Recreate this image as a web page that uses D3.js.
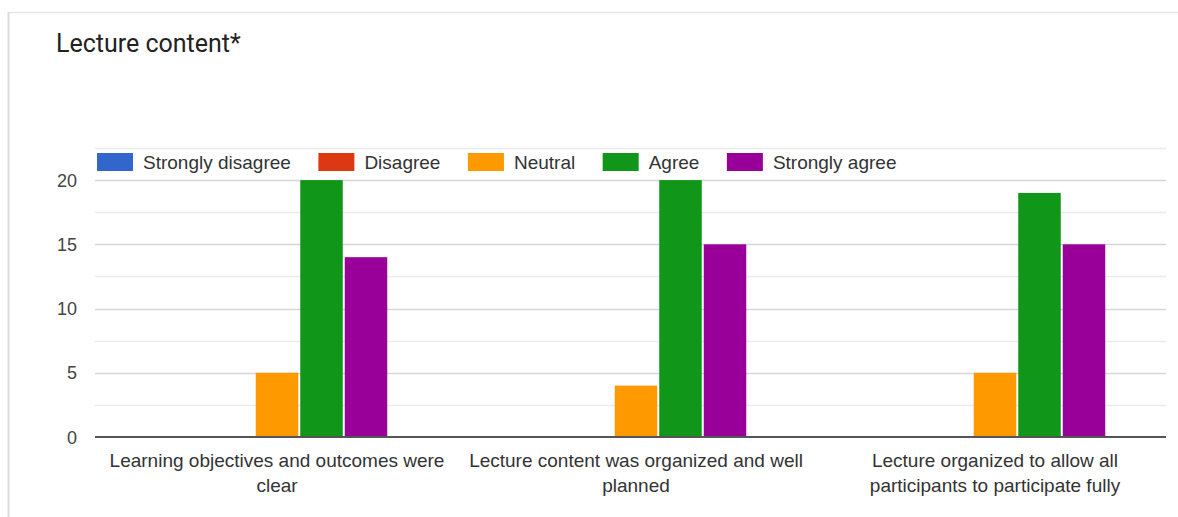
<!DOCTYPE html>
<html>
<head>
<meta charset="utf-8">
<script src="https://cdn.jsdelivr.net/npm/d3@7"></script>
<style>
  html, body { margin: 0; padding: 0; background: #fff; }
  svg { display: block; }
</style>
</head>
<body>
<svg id="chart" width="1178" height="517"></svg>
<script>
const title = "Lecture content*";
const categories = [
  ["Learning objectives and outcomes were", "clear"],
  ["Lecture content was organized and well", "planned"],
  ["Lecture organized to allow all", "participants to participate fully"]
];
const seriesNames = ["Strongly disagree", "Disagree", "Neutral", "Agree", "Strongly agree"];
const seriesColors = ["#3366cc", "#dc3912", "#ff9900", "#109618", "#990099"];
const stronglyDisagree = [0, 0, 0];
const disagree = [0, 0, 0];
const neutral = [5, 4, 5];
const agree = [20, 20, 19];
const stronglyAgree = [14, 15, 15];
const yTicks = [0, 5, 10, 15, 20];
const yGrid = [2.5, 7.5, 12.5, 17.5, 22.5];

const series = [stronglyDisagree, disagree, neutral, agree, stronglyAgree];

const svg = d3.select("#chart");
const FONT = "'Liberation Sans', Arial, sans-serif";

// card border
svg.append("line").attr("x1", 8).attr("x2", 1178).attr("y1", 12.5).attr("y2", 12.5)
  .attr("stroke", "#e6e6e6").attr("stroke-width", 1.5);
svg.append("line").attr("x1", 8.5).attr("x2", 8.5).attr("y1", 12).attr("y2", 517)
  .attr("stroke", "#dcdcdc").attr("stroke-width", 2);

// title
svg.append("text").attr("x", 56).attr("y", 51.5)
  .attr("font-family", "Roboto, 'Liberation Sans', sans-serif")
  .attr("font-size", 25).attr("fill", "#222")
  .text(title);

const plotLeft = 95, plotRight = 1166;
const y = d3.scaleLinear().domain([0, 22.5]).range([437, 148]);
const x0 = d3.scaleBand().domain(d3.range(categories.length)).range([97.5, 1174.5]).padding(0);
const x1 = d3.scaleBand().domain(d3.range(seriesNames.length)).range([0, x0.bandwidth()])
  .paddingInner(0.045).paddingOuter(1.556);

// minor gridlines
svg.append("g").selectAll("line").data(yGrid).join("line")
  .attr("x1", plotLeft).attr("x2", plotRight)
  .attr("y1", d => Math.round(y(d)) + 0.5).attr("y2", d => Math.round(y(d)) + 0.5)
  .attr("stroke", "#ebebeb").attr("stroke-width", 1.5);

// major gridlines
svg.append("g").selectAll("line").data(yTicks.filter(d => d > 0)).join("line")
  .attr("x1", plotLeft).attr("x2", plotRight)
  .attr("y1", d => Math.round(y(d)) + 0.5).attr("y2", d => Math.round(y(d)) + 0.5)
  .attr("stroke", "#d6d6d6").attr("stroke-width", 1.5);

// y axis labels
svg.append("g").selectAll("text").data(yTicks).join("text")
  .attr("x", 77).attr("y", d => y(d) + 6.5)
  .attr("text-anchor", "end")
  .attr("font-family", FONT).attr("font-size", 18).attr("fill", "#444")
  .text(d => d);

// bars
const groups = svg.append("g").selectAll("g").data(categories).join("g")
  .attr("transform", (d, i) => `translate(${x0(i)},0)`);
groups.selectAll("rect").data((d, i) => series.map((s, k) => ({ k, v: s[i] })))
  .join("rect")
  .attr("x", d => x1(d.k))
  .attr("width", x1.bandwidth())
  .attr("y", d => y(d.v))
  .attr("height", d => y(0) - y(d.v))
  .attr("fill", d => seriesColors[d.k]);

// baseline
svg.append("line").attr("x1", plotLeft).attr("x2", plotRight)
  .attr("y1", y(0)).attr("y2", y(0))
  .attr("stroke", "#555").attr("stroke-width", 2);

// x labels
const xl = svg.append("g").selectAll("text").data(categories).join("text")
  .attr("text-anchor", "middle")
  .attr("font-family", FONT).attr("font-size", 19).attr("fill", "#333")
  .attr("transform", (d, i) => `translate(${x0(i) + x0.bandwidth() / 2},0)`);
xl.selectAll("tspan").data(d => d).join("tspan")
  .attr("x", 0).attr("y", (d, j) => 467 + j * 25)
  .text(d => d);

// legend
const legend = svg.append("g");
const legendBg = legend.append("rect").attr("x", 95).attr("y", 150).attr("height", 24).attr("fill", "#fff");
let lx = 97;
seriesNames.forEach((name, k) => {
  legend.append("rect").attr("x", lx).attr("y", 153).attr("width", 36).attr("height", 18)
    .attr("fill", seriesColors[k]);
  const t = legend.append("text").attr("x", lx + 46).attr("y", 168.5)
    .attr("font-family", FONT).attr("font-size", 19).attr("fill", "#333")
    .text(name);
  const w = t.node().getComputedTextLength();
  lx = lx + 46 + w + 27.5;
});
legendBg.attr("width", lx - 95);
</script>
</body>
</html>
